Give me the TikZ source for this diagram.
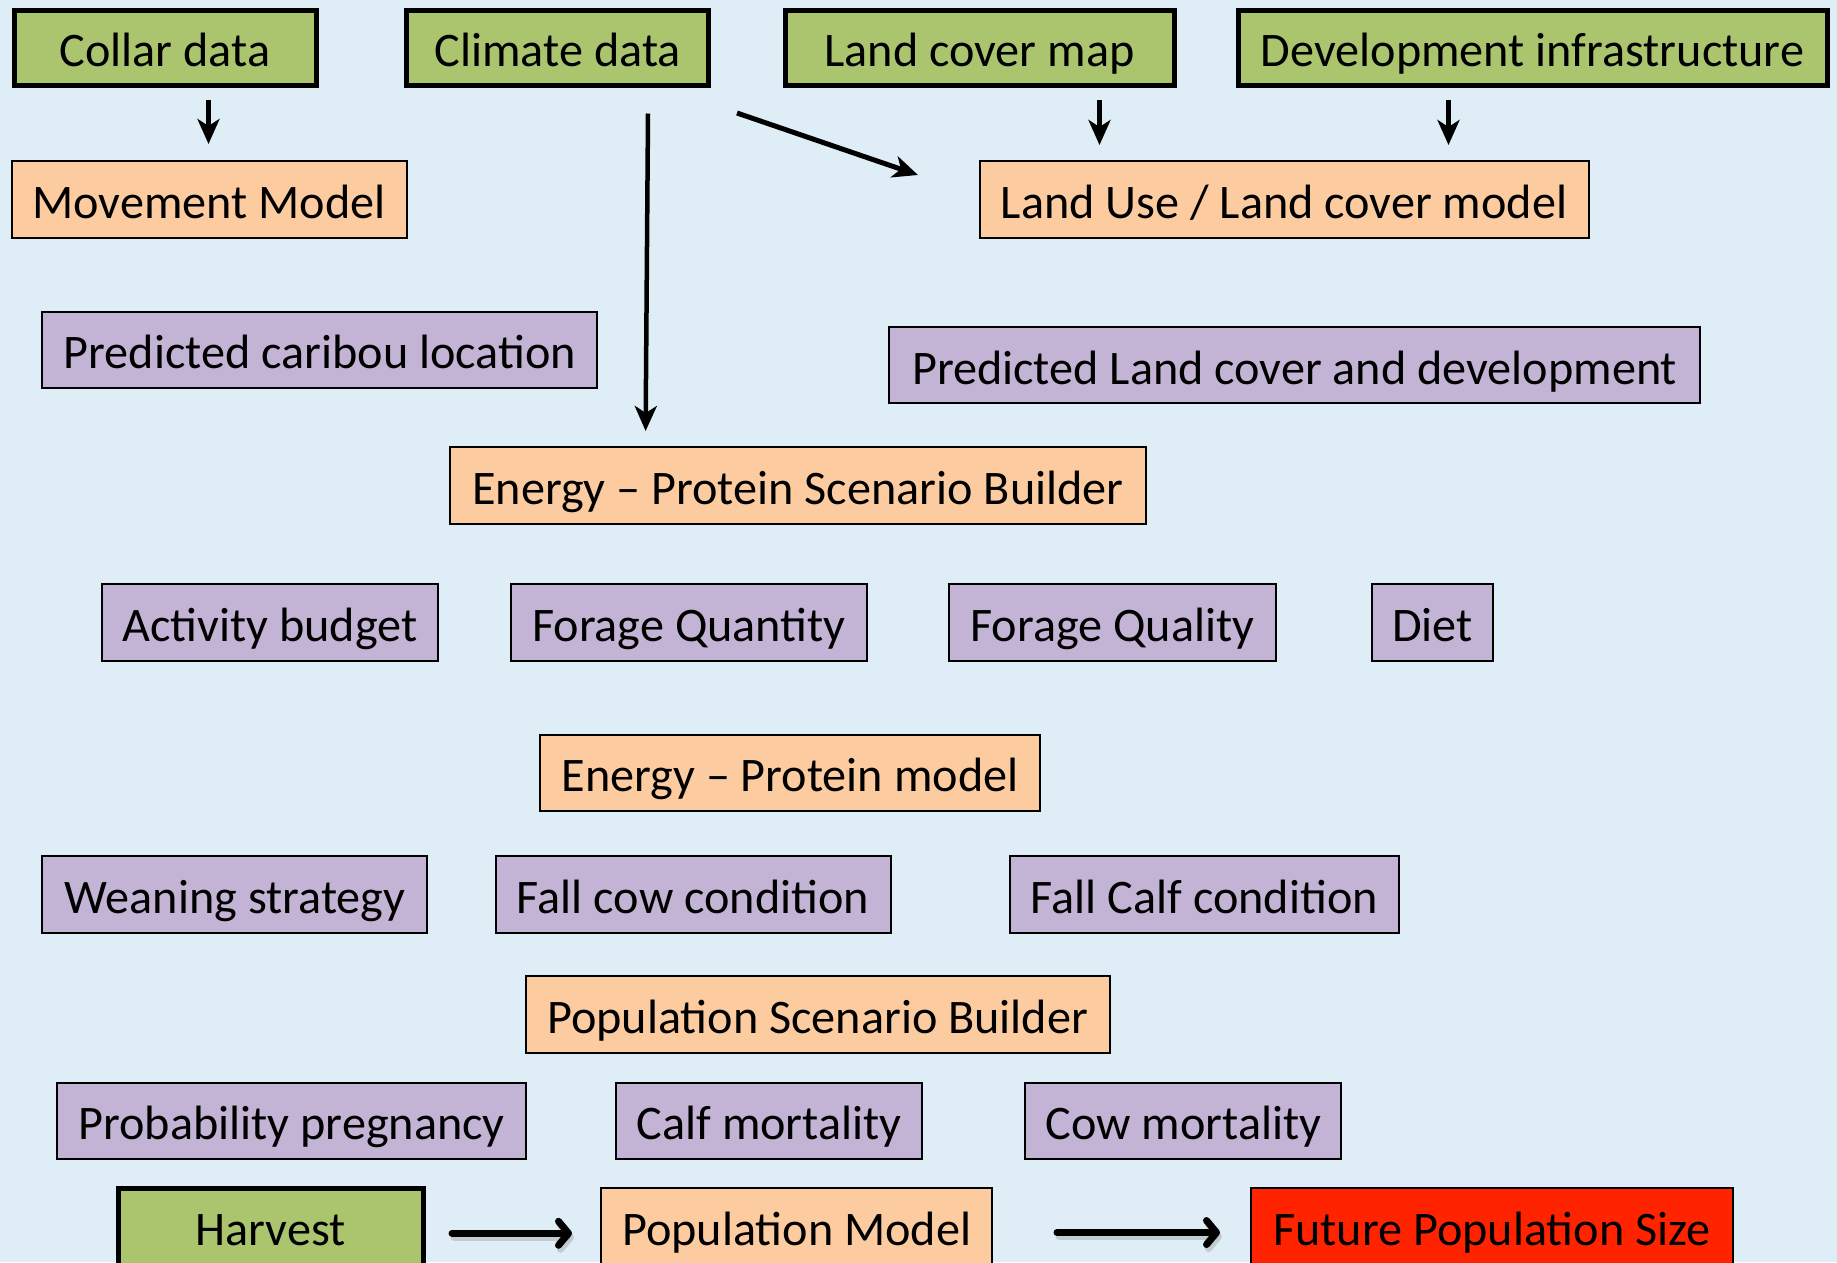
\documentclass[tikz,border=0pt]{standalone}
\usepackage{fontspec}
\setmainfont{Carlito}
\usetikzlibrary{arrows.meta}

\definecolor{bgblue}{RGB}{223,238,246}
\definecolor{datagreen}{RGB}{171,196,110}
\definecolor{modelpeach}{RGB}{252,204,160}
\definecolor{outlilac}{RGB}{195,179,213}
\definecolor{resultred}{RGB}{255,35,0}

\tikzset{
  box/.style={draw=black, line width=2pt, inner sep=0pt, align=center,
    text height=38pt, text depth=0pt,
    font=\fontsize{48.2}{58}\selectfont},
  datanode/.style={box, fill=datagreen, line width=5pt},
  modelnode/.style={box, fill=modelpeach},
  outnode/.style={box, fill=outlilac},
  resultnode/.style={box, fill=resultred},
  feed/.style={line width=4.5pt, -{Stealth[length=25pt, width=22pt, inset=7pt]}},
  flow/.style={line width=7pt, line cap=round,
    -{Straight Barb[length=10pt, width=24pt, round]}},
  flowshade/.style={flow, draw=black!45, opacity=0.35},
}

\begin{document}
\begin{tikzpicture}[x=1pt, y=-1pt]
  \clip (0,0) rectangle (1837,1262);
  \fill[bgblue] (0,0) rectangle (1837,1262);

  % input data
  \node[datanode, minimum width=302pt, minimum height=75pt] (collar)  at (165,47.5) {Collar data};
  \node[datanode, minimum width=302pt, minimum height=75pt] (climate) at (557.7,47.5) {Climate data};
  \node[datanode, minimum width=389pt, minimum height=75pt] (landmap) at (979.5,47.5) {Land cover map};
  \node[datanode, minimum width=589pt, minimum height=75pt] (devinfra) at (1532.5,47.5) {Development infrastructure};

  % first-level models
  \node[modelnode, minimum width=395pt, minimum height=77pt] (movement) at (209,199) {Movement Model};
  \node[modelnode, minimum width=609pt, minimum height=77pt] (luluc) at (1284,199) {Land Use / Land cover model};

  \node[outnode, minimum width=555pt, minimum height=76pt] (caribouloc) at (319.9,349.7) {Predicted caribou location};
  \node[outnode, minimum width=811pt, minimum height=76pt] (predland) at (1294.6,365) {Predicted Land cover and development};

  % energy-protein stage
  \node[modelnode, minimum width=696pt, minimum height=77pt] (epbuilder) at (797.9,485.4) {Energy -- Protein Scenario Builder};

  \node[outnode, minimum width=336pt, minimum height=77pt] (activity) at (270,622) {Activity budget};
  \node[outnode, minimum width=356pt, minimum height=77pt] (quantity) at (688.9,622) {Forage Quantity};
  \node[outnode, minimum width=327pt, minimum height=77pt] (quality) at (1112.4,622) {Forage Quality};
  \node[outnode, minimum width=121pt, minimum height=77pt] (diet) at (1432.3,622) {Diet};

  \node[modelnode, minimum width=500pt, minimum height=76pt] (epmodel) at (790,772.7) {Energy -- Protein model};

  \node[outnode, minimum width=385pt, minimum height=77pt] (weaning) at (234.9,894) {Weaning strategy};
  \node[outnode, minimum width=395pt, minimum height=77pt] (cowcond) at (693,894) {Fall cow condition};
  \node[outnode, minimum width=389pt, minimum height=77pt] (calfcond) at (1204.4,894) {Fall Calf condition};

  % population stage
  \node[modelnode, minimum width=584pt, minimum height=77pt] (popbuilder) at (817.8,1014.6) {Population Scenario Builder};

  \node[outnode, minimum width=469pt, minimum height=76pt] (pregnancy) at (291.7,1120.6) {Probability pregnancy};
  \node[outnode, minimum width=306pt, minimum height=76pt] (calfmort) at (769.1,1120.6) {Calf mortality};
  \node[outnode, minimum width=316pt, minimum height=76pt] (cowmort) at (1183.3,1120.6) {Cow mortality};

  \node[datanode, minimum width=305pt, minimum height=77pt] (harvest) at (270.5,1226.5) {Harvest};
  \node[modelnode, minimum width=391pt, minimum height=77pt] (popmodel) at (796.7,1226.5) {Population Model};
  \node[resultnode, minimum width=482pt, minimum height=77pt] (future) at (1492,1226.5) {Future Population Size};

  % connector end points
  \coordinate (collarOut) at (208.5,99.5);
  \coordinate (movementIn) at (208.5,144);
  \coordinate (climateOut) at (648,113.5);
  \coordinate (epbuilderIn) at (645.6,431);
  \coordinate (climateSide) at (737,113);
  \coordinate (lulucSide) at (918,175);
  \coordinate (landmapOut) at (1099.5,99.5);
  \coordinate (lulucInA) at (1099.5,145);
  \coordinate (devOut) at (1448.5,99.5);
  \coordinate (lulucInB) at (1448.5,145);
  \coordinate (harvestOut) at (452,1233.3);
  \coordinate (popmodelIn) at (572,1233.3);
  \coordinate (popmodelOut) at (1057,1232.5);
  \coordinate (futureIn) at (1220,1232.5);

  \draw[feed] (collarOut) -- (movementIn);
  \draw[feed] (climateOut) -- (epbuilderIn);
  \draw[feed, line width=5pt] (climateSide) -- (lulucSide);
  \draw[feed] (landmapOut) -- (lulucInA);
  \draw[feed] (devOut) -- (lulucInB);

  % population flow, with a soft shadow under each arrow
  \draw[flowshade, transform canvas={xshift=2pt, yshift=-4pt}] (harvestOut) -- (popmodelIn);
  \draw[flowshade, transform canvas={xshift=2pt, yshift=-4pt}] (popmodelOut) -- (futureIn);
  \draw[flow] (harvestOut) -- (popmodelIn);
  \draw[flow] (popmodelOut) -- (futureIn);
\end{tikzpicture}
\end{document}
